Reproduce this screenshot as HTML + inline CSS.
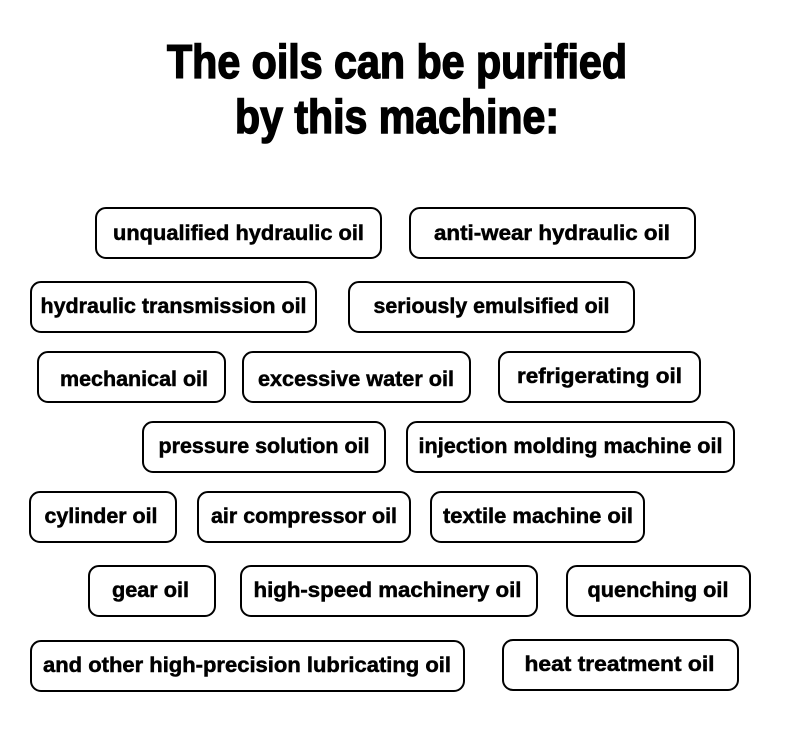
<!DOCTYPE html>
<html><head><meta charset="utf-8"><style>
html,body{margin:0;padding:0;background:#fff;}
svg{display:block}
text{font-family:"Liberation Sans",sans-serif;font-weight:bold;fill:#000;stroke:#000;stroke-width:0.5;}
rect{fill:#fff;stroke:#000;stroke-width:2;}
</style></head><body>
<svg width="790" height="742" viewBox="0 0 790 742">
<text x="397" y="78" font-size="47" text-anchor="middle" textLength="460" lengthAdjust="spacingAndGlyphs" style="stroke-width:1.5">The oils can be purified</text>
<text x="397" y="133" font-size="47" text-anchor="middle" textLength="324" lengthAdjust="spacingAndGlyphs" style="stroke-width:1.5">by this machine:</text>

<g font-size="21">
<rect x="96" y="208" width="285" height="50" rx="10"/><text x="238.5" y="240" text-anchor="middle" textLength="251" lengthAdjust="spacingAndGlyphs">unqualified hydraulic oil</text>
<rect x="410" y="208" width="285" height="50" rx="10"/><text x="552" y="240" text-anchor="middle" textLength="236" lengthAdjust="spacingAndGlyphs">anti-wear hydraulic oil</text>

<rect x="31" y="282" width="285" height="50" rx="10"/><text x="173.5" y="313" text-anchor="middle" textLength="266" lengthAdjust="spacingAndGlyphs">hydraulic transmission oil</text>
<rect x="349" y="282" width="285" height="50" rx="10"/><text x="491.5" y="313" text-anchor="middle" textLength="236" lengthAdjust="spacingAndGlyphs">seriously emulsified oil</text>

<rect x="38" y="352" width="187" height="50" rx="10"/><text x="134" y="386" text-anchor="middle" textLength="148" lengthAdjust="spacingAndGlyphs">mechanical oil</text>
<rect x="243" y="352" width="227" height="50" rx="10"/><text x="356" y="386" text-anchor="middle" textLength="196" lengthAdjust="spacingAndGlyphs">excessive water oil</text>
<rect x="499" y="352" width="201" height="50" rx="10"/><text x="599.5" y="383" text-anchor="middle" textLength="165" lengthAdjust="spacingAndGlyphs">refrigerating oil</text>

<rect x="143" y="422" width="242" height="50" rx="10"/><text x="264" y="453" text-anchor="middle" textLength="211" lengthAdjust="spacingAndGlyphs">pressure solution oil</text>
<rect x="407" y="422" width="327" height="50" rx="10"/><text x="570.5" y="453" text-anchor="middle" textLength="304" lengthAdjust="spacingAndGlyphs">injection molding machine oil</text>

<rect x="30" y="492" width="146" height="50" rx="10"/><text x="101" y="523" text-anchor="middle" textLength="113" lengthAdjust="spacingAndGlyphs">cylinder oil</text>
<rect x="198" y="492" width="212" height="50" rx="10"/><text x="304" y="523" text-anchor="middle" textLength="186" lengthAdjust="spacingAndGlyphs">air compressor oil</text>
<rect x="431" y="492" width="213" height="50" rx="10"/><text x="538" y="523" text-anchor="middle" textLength="190" lengthAdjust="spacingAndGlyphs">textile machine oil</text>

<rect x="89" y="566" width="126" height="50" rx="10"/><text x="150.5" y="597" text-anchor="middle" textLength="77" lengthAdjust="spacingAndGlyphs">gear oil</text>
<rect x="241" y="566" width="296" height="50" rx="10"/><text x="387.5" y="597" text-anchor="middle" textLength="268" lengthAdjust="spacingAndGlyphs">high-speed machinery oil</text>
<rect x="567" y="566" width="183" height="50" rx="10"/><text x="658" y="597" text-anchor="middle" textLength="141" lengthAdjust="spacingAndGlyphs">quenching oil</text>

<rect x="31" y="641" width="433" height="50" rx="10"/><text x="247" y="672" text-anchor="middle" textLength="408" lengthAdjust="spacingAndGlyphs">and other high-precision lubricating oil</text>
<rect x="503" y="640" width="235" height="50" rx="10"/><text x="619.5" y="671" text-anchor="middle" textLength="190" lengthAdjust="spacingAndGlyphs">heat treatment oil</text>
</g>
</svg>
</body></html>
